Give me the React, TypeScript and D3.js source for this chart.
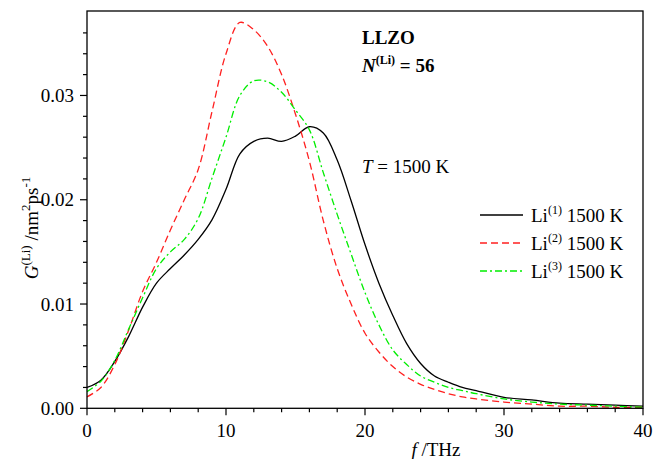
import React from "react";
import * as d3 from "d3";

const freq = [0,1,2,3,4,5,6,7,8,9,10,11,12,13,14,15,16,17,18,19,20,21,22,23,24,25,26,27,28,30,32,34,36,38,40];
const li1 = [0.0020,0.0027,0.0045,0.0069,0.0097,0.0120,0.0134,0.0147,0.0162,0.0181,0.0210,0.0244,0.0256,0.0259,0.0256,0.0261,0.0270,0.0264,0.0238,0.0199,0.0157,0.0120,0.0089,0.0062,0.0043,0.0031,0.0025,0.0020,0.0017,0.00105,0.0008,0.0005,0.0004,0.0003,0.0002];
const li2 = [0.0011,0.0020,0.0042,0.0075,0.0112,0.0140,0.0171,0.0200,0.0229,0.0285,0.0340,0.0370,0.0363,0.0347,0.0320,0.0282,0.0237,0.0180,0.0134,0.0100,0.0072,0.0054,0.0040,0.0030,0.0023,0.0018,0.0014,0.0011,0.0009,0.0006,0.0004,0.0002,0.0002,0.0001,0.0001];
const li3 = [0.0016,0.0026,0.0046,0.0076,0.0106,0.0134,0.0150,0.0162,0.0182,0.0221,0.0260,0.0300,0.0314,0.0313,0.0303,0.0286,0.0267,0.0226,0.0186,0.0148,0.0111,0.0080,0.0056,0.0042,0.0031,0.0025,0.0020,0.0017,0.0014,0.0009,0.0006,0.0004,0.0003,0.0002,0.0001];

const xMajor = [0, 10, 20, 30, 40];
const xMinor = d3.range(0, 41, 2);
const yMajor = [0, 0.01, 0.02, 0.03];
const yMinor = d3.range(0, 0.0371, 0.002);

const seriesNames = ["1", "2", "3"];
const seriesColors = ["#000000", "#ff2020", "#00ee00"];
const seriesDash = ["none", "7,4", "7,3,2,3"];

const W = 654, H = 459;
const L = 87, R = 643, T = 11, B = 408.3;
const FONT = "'Liberation Serif', 'Times New Roman', serif";

export default function App() {
  const x = d3.scaleLinear().domain([0, 40]).range([L, R]);
  const y = d3.scaleLinear().domain([0, 0.0381]).range([B, T]);
  const line = d3.line<number>().x((_, i) => x(freq[i])).y((v) => y(v)).curve(d3.curveCatmullRom.alpha(0.5));
  const data = [li1, li2, li3];

  return (
    <svg width={W} height={H} style={{ position: "absolute", left: 0, top: 0, background: "#fff", fontFamily: FONT }}>
      <rect x={0} y={0} width={W} height={H} fill="#fff" />
      {data.map((d, i) => (
        <path key={i} d={line(d) || ""} fill="none" stroke={seriesColors[i]} strokeWidth={1.3} strokeDasharray={seriesDash[i]} />
      ))}
      <rect x={L} y={T} width={R - L} height={B - T} fill="none" stroke="#000" strokeWidth={1.3} />
      {xMinor.map((v) => (
        <line key={"xm" + v} x1={x(v)} x2={x(v)} y1={B} y2={B + (v % 10 === 0 ? 7 : 4)} stroke="#000" strokeWidth={1.2} />
      ))}
      {xMajor.map((v) => (
        <text key={"xt" + v} x={x(v)} y={437} fontSize={19} textAnchor="middle">{v}</text>
      ))}
      {yMinor.map((v, i) => (
        <line key={"ym" + i} x1={L} x2={L - (i % 5 === 0 ? 7 : 4)} y1={y(v)} y2={y(v)} stroke="#000" strokeWidth={1.2} />
      ))}
      {yMajor.map((v) => (
        <text key={"yt" + v} x={74} y={y(v) + 6.5} fontSize={19} textAnchor="end">{v.toFixed(2)}</text>
      ))}
      <text x={436} y={456} fontSize={19} textAnchor="middle">
        <tspan fontStyle="italic">f</tspan>
        <tspan> /THz</tspan>
      </text>
      <text transform="translate(38,228) rotate(-90)" fontSize={19} textAnchor="middle">
        <tspan fontStyle="italic">G</tspan>
        <tspan fontSize={13} dy={-8}>(Li)</tspan>
        <tspan dy={8}> /nm</tspan>
        <tspan fontSize={13} dy={-8}>2</tspan>
        <tspan dy={8}>ps</tspan>
        <tspan fontSize={13} dy={-8}>-1</tspan>
      </text>
      <text x={362} y={44} fontSize={19} fontWeight="bold">LLZO</text>
      <text x={362} y={72} fontSize={19} fontWeight="bold">
        <tspan fontStyle="italic">N</tspan>
        <tspan fontSize={12} dy={-8}>(Li)</tspan>
        <tspan dy={8}> = 56</tspan>
      </text>
      <text x={362} y={173} fontSize={19}>
        <tspan fontStyle="italic">T</tspan>
        <tspan> = 1500 K</tspan>
      </text>
      {seriesNames.map((n, i) => {
        const ly = 215 + i * 28;
        return (
          <g key={"lg" + n}>
            <line x1={480} x2={523} y1={ly} y2={ly} stroke={seriesColors[i]} strokeWidth={1.3} strokeDasharray={seriesDash[i]} />
            <text x={531} y={ly + 7} fontSize={19}>
              <tspan>Li</tspan>
              <tspan fontSize={12} dy={-8}>({n})</tspan>
              <tspan dy={8}> 1500 K</tspan>
            </text>
          </g>
        );
      })}
    </svg>
  );
}
